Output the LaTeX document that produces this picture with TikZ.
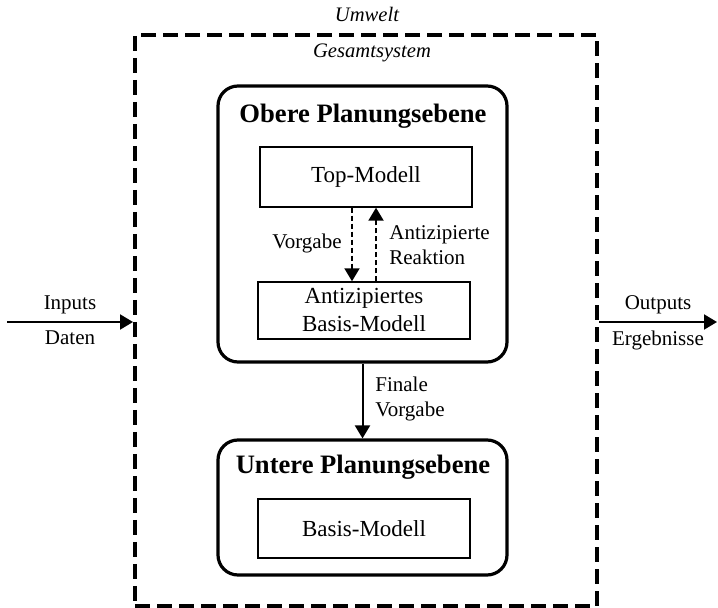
\documentclass[tikz,border=0pt]{standalone}
\usepackage{fontspec}
\setmainfont{Liberation Serif}
\usetikzlibrary{arrows.meta}

\begin{document}
\begin{tikzpicture}[x=0.5pt, y=-0.5pt,
            level/.style={draw, line width=1.6pt, rounded corners=10pt, minimum width=144.5pt},
            model/.style={draw, line width=0.7pt, minimum width=106pt, align=center, font=\fontsize{11.5}{14}\selectfont},
            title/.style={font=\fontsize{13.3}{16}\selectfont\bfseries},
            lbl/.style={font=\fontsize{10.5}{12.5}\selectfont, align=left, inner sep=0pt},
            area/.style={font=\fontsize{10.3}{12}\selectfont\itshape},
            flow/.style={line width=1pt, -{Triangle[length=6.5pt, width=7.5pt]}},
            hint/.style={flow, dash pattern=on 2.5pt off 1.5pt},
        ]
            \useasboundingbox (0,0) rectangle (718,608);

            % environment and whole system
            \node[area] (umwelt) at (367,14) {Umwelt};
            \node[draw, line width=2pt, dash pattern=on 7.5pt off 3.5pt, inner sep=0pt,
                  minimum width=231pt, minimum height=285.5pt] (gesamt) at (366,320.5) {};
            \node[area] (gesamttitel) at (372,53) {Gesamtsystem};

            % upper level
            \node[level, minimum height=138pt] (obere) at (362.5,224) {};
            \node[title] (oberetitel) at (363,116) {Obere Planungsebene};
            \node[model, minimum height=30pt] (top) at (366,177) {Top-Modell};
            \node[model, minimum height=28.5pt] (antiz) at (364,310.5) {Antizipiertes\\Basis-Modell};

            % lower level
            \node[level, minimum height=67.5pt] (untere) at (362.5,507.5) {};
            \node[title] (unteretitel) at (363,467) {Untere Planungsebene};
            \node[model, minimum height=29.5pt] (basis) at (364,528.5) {Basis-Modell};

            % coordination between the levels
            \draw[hint] ([xshift=-7pt]top.south) -- ([xshift=-7pt]top.south |- antiz.north);
            \draw[hint] ([xshift=5pt]top.south |- antiz.north) -- ([xshift=5pt]top.south);
            \node[lbl, anchor=east] (vorgabe) at (342,243) {Vorgabe};
            \node[lbl, anchor=west] (reaktion) at (389,245.5) {Antizipierte\\Reaktion};
            \draw[flow] (obere.south) -- (untere.north);
            \node[lbl, anchor=west] (finale) at (375,398.5) {Finale\\Vorgabe};

            % inputs and outputs
            \coordinate (in) at (7,322);
            \coordinate (out) at (717,322);
            \draw[flow] (in) -- (in -| gesamt.west)
                node[lbl, midway, above=3.5pt] {Inputs}
                node[lbl, midway, below=4pt] {Daten};
            \draw[flow] (gesamt.east |- out) -- (out)
                node[lbl, midway, above=3.5pt] {Outputs}
                node[lbl, midway, below=4pt] {Ergebnisse};
        \end{tikzpicture}
\end{document}
